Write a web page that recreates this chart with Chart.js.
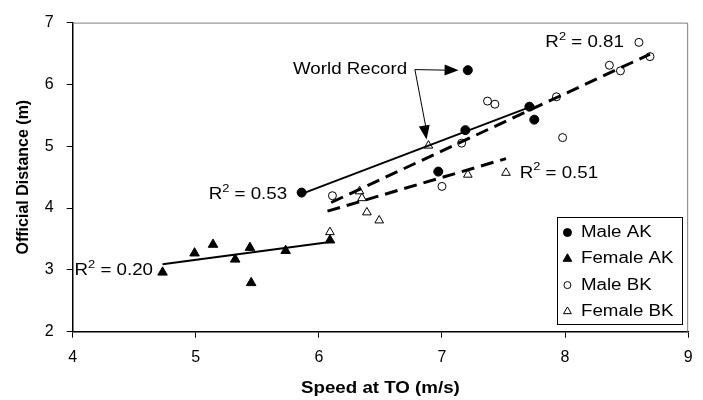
<!DOCTYPE html>
<html>
<head>
<meta charset="utf-8">
<script src="https://cdn.jsdelivr.net/npm/chart.js@4.4.1/dist/chart.umd.min.js"></script>
<style>
html, body { margin: 0; padding: 0; background: #fff; }
canvas { display: block; }
</style>
</head>
<body>
<canvas id="myChart" width="703" height="400"></canvas>
<script>
// Series names (legend order)
var seriesNames = ["Male AK", "Female AK", "Male BK", "Female BK"];

// Male AK (filled circles)
var maleAkX = [5.86, 6.97, 7.19, 7.21, 7.71, 7.75];
var maleAkY = [4.25, 4.59, 5.26, 6.23, 5.64, 5.43];

// Female AK (filled triangles)
var femaleAkX = [4.73, 4.99, 5.14, 5.32, 5.44, 5.45, 5.73, 6.09];
var femaleAkY = [2.96, 3.27, 3.41, 3.17, 3.36, 2.79, 3.31, 3.48];

// Male BK (open circles)
var maleBkX = [6.11, 7.00, 7.16, 7.37, 7.43, 7.93, 7.98, 8.36, 8.45, 8.60, 8.69];
var maleBkY = [4.20, 4.35, 5.05, 5.73, 5.68, 5.80, 5.14, 6.31, 6.22, 6.68, 6.45];

// Female BK (open triangles)
var femaleBkX = [6.09, 6.33, 6.35, 6.39, 6.49, 6.89, 7.21, 7.52];
var femaleBkY = [3.61, 4.27, 4.16, 3.93, 3.80, 5.01, 4.54, 4.57];

// Linear trend lines (end points)
var maleAkTrendX = [5.86, 7.75];
var maleAkTrendY = [4.23, 5.66];
var femaleAkTrendX = [4.73, 6.09];
var femaleAkTrendY = [3.09, 3.45];
var maleBkTrendX = [6.10, 8.69];
var maleBkTrendY = [4.09, 6.49];
var femaleBkTrendX = [6.07, 7.52];
var femaleBkTrendY = [3.95, 4.80];

// R squared values
var r2Values = ["0.53", "0.20", "0.81", "0.51"];

// Tick labels
var xTicks = [4, 5, 6, 7, 8, 9];
var yTicks = [2, 3, 4, 5, 6, 7];

var xTitle = "Speed at TO (m/s)";
var yTitle = "Official Distance (m)";

var FAMILY = "'Liberation Sans', Arial, sans-serif";
var SX = 1.17; // the original text is a bit wide

function toPoints(xs, ys) {
    return xs.map(function (v, i) { return { x: v, y: ys[i] }; });
}

function markerSet(label, xs, ys, style, radius, fill) {
    return {
        label: label,
        data: toPoints(xs, ys),
        pointStyle: style,
        pointRadius: radius,
        pointHoverRadius: radius,
        pointBackgroundColor: fill,
        pointBorderColor: "#000",
        pointBorderWidth: 1,
        showLine: false,
        order: 1
    };
}

function trendSet(xs, ys, width, dash) {
    return {
        label: "",
        data: toPoints(xs, ys),
        showLine: true,
        fill: false,
        borderColor: "#000",
        borderWidth: width,
        borderDash: dash,
        pointRadius: 0,
        pointHoverRadius: 0,
        order: 0
    };
}

// text helper, stretched horizontally
function drawText(ctx, str, x, y, font) {
    ctx.font = font;
    var w = ctx.measureText(str).width * SX;
    ctx.save();
    ctx.translate(x, y);
    ctx.scale(SX, 1);
    ctx.fillText(str, 0, 0);
    ctx.restore();
    return w;
}

function textWidth(ctx, str, font) {
    ctx.font = font;
    return ctx.measureText(str).width * SX;
}

function drawR2(ctx, val, x, y, align) {
    var f = "16px " + FAMILY;
    var fs = "11px " + FAMILY;
    var rest = " = " + val;
    var total = textWidth(ctx, "R", f) + textWidth(ctx, "2", fs) + textWidth(ctx, rest, f);
    var x0 = align === "right" ? x - total : x;
    x0 += drawText(ctx, "R", x0, y, f);
    x0 += drawText(ctx, "2", x0, y - 6, fs);
    drawText(ctx, rest, x0, y, f);
}

function arrowHead(ctx, fromX, fromY, toX, toY) {
    var ang = Math.atan2(toY - fromY, toX - fromX);
    var len = 14, half = 5.5;
    ctx.beginPath();
    ctx.moveTo(toX, toY);
    ctx.lineTo(toX - len * Math.cos(ang) + half * Math.sin(ang), toY - len * Math.sin(ang) - half * Math.cos(ang));
    ctx.lineTo(toX - len * Math.cos(ang) - half * Math.sin(ang), toY - len * Math.sin(ang) + half * Math.cos(ang));
    ctx.closePath();
    ctx.fill();
}

var extras = {
    id: "extras",
    afterDraw: function (chart) {
        var ctx = chart.ctx;
        var area = chart.chartArea;
        var sx = chart.scales.x, sy = chart.scales.y;
        function px(v) { return sx.getPixelForValue(v); }
        function py(v) { return sy.getPixelForValue(v); }

        ctx.save();
        // plot area frame (top and right)
        ctx.strokeStyle = "#7f7f7f";
        ctx.lineWidth = 1;
        ctx.beginPath();
        ctx.moveTo(area.left, area.top + 0.5);
        ctx.lineTo(area.right - 0.5, area.top + 0.5);
        ctx.lineTo(area.right - 0.5, area.bottom);
        ctx.stroke();

        ctx.fillStyle = "#000";
        ctx.strokeStyle = "#000";
        ctx.textBaseline = "middle";

        // x axis title (stretched like the rest of the text)
        var tw = textWidth(ctx, xTitle, "bold 16px " + FAMILY);
        drawText(ctx, xTitle, (area.left + area.right) / 2 - tw / 2, 388.3, "bold 16px " + FAMILY);

        // R squared labels
        drawR2(ctx, r2Values[0], px(5.742), py(4.219), "right");
        drawR2(ctx, r2Values[1], px(4.652), py(2.99), "right");
        drawR2(ctx, r2Values[2], px(7.84), py(6.676), "left");
        drawR2(ctx, r2Values[3], px(7.631), py(4.563), "left");

        // World Record note with arrows
        drawText(ctx, "World Record", px(5.79), py(6.24), "16px " + FAMILY);
        var ex = px(6.78), ey = py(6.24);
        var t1x = px(7.135), t1y = py(6.23);
        var t2x = px(6.875), t2y = py(5.11);
        ctx.lineWidth = 1;
        ctx.beginPath();
        ctx.moveTo(ex, ey);
        ctx.lineTo(t1x - 10, t1y);
        ctx.moveTo(ex, ey);
        ctx.lineTo(t2x - 0.3, t2y - 10);
        ctx.stroke();
        arrowHead(ctx, ex, ey, t1x, t1y);
        arrowHead(ctx, ex, ey, t2x, t2y);

        // legend box
        var bw = 125, bh = 106.5;
        var bx = area.right - 5.7 - bw, by = area.bottom - 8.4 - bh;
        ctx.fillStyle = "#fff";
        ctx.fillRect(bx, by, bw, bh);
        ctx.strokeStyle = "#000";
        ctx.lineWidth = 1;
        ctx.strokeRect(Math.round(bx) + 0.5, Math.round(by) + 0.5, Math.round(bw), Math.round(bh));
        var legendR = [4, 5, 3.5, 4.5];
        for (var i = 0; i < seriesNames.length; i++) {
            var ds = chart.data.datasets[i];
            var iy = by + 15.7 + i * 26.3;
            ctx.fillStyle = ds.pointBackgroundColor;
            ctx.strokeStyle = "#000";
            ctx.lineWidth = 1;
            Chart.helpers.drawPoint(ctx, { pointStyle: ds.pointStyle, radius: legendR[i], rotation: 0, borderWidth: 1 }, bx + 10, iy);
            ctx.fillStyle = "#000";
            drawText(ctx, ds.label, bx + 23.5, iy, "16px " + FAMILY);
        }
        ctx.restore();
    }
};

const ctx = document.getElementById("myChart");
var myChart = new Chart(ctx, {
    type: "scatter",
    data: {
        datasets: [
            markerSet(seriesNames[0], maleAkX, maleAkY, "circle", 4.5, "#000"),
            markerSet(seriesNames[1], femaleAkX, femaleAkY, "triangle", 5.5, "#000"),
            markerSet(seriesNames[2], maleBkX, maleBkY, "circle", 4, "#fff"),
            markerSet(seriesNames[3], femaleBkX, femaleBkY, "triangle", 5, "#fff"),
            trendSet(maleAkTrendX, maleAkTrendY, 2, []),
            trendSet(femaleAkTrendX, femaleAkTrendY, 2, []),
            trendSet(maleBkTrendX, maleBkTrendY, 3, [13, 7]),
            trendSet(femaleBkTrendX, femaleBkTrendY, 3, [13, 7])
        ]
    },
    options: {
        responsive: false,
        animation: false,
        layout: { padding: { left: 0, top: 12.3, right: 14.3, bottom: 0 } },
        plugins: {
            legend: { display: false },
            tooltip: { enabled: false }
        },
        scales: {
            x: {
                type: "linear",
                min: xTicks[0],
                max: xTicks[xTicks.length - 1],
                afterBuildTicks: function (scale) {
                    scale.ticks = xTicks.map(function (v) { return { value: v }; });
                },
                afterFit: function (scale) { scale.height = 68.3; },
                border: { display: true, color: "#000", width: 1.5 },
                grid: { drawOnChartArea: false, drawTicks: true, tickLength: 6, color: "#000" },
                ticks: { color: "#000", padding: 10.4, maxRotation: 0, font: { size: 16, family: FAMILY } },
                title: { display: false }
            },
            y: {
                type: "linear",
                min: yTicks[0],
                max: yTicks[yTicks.length - 1],
                afterBuildTicks: function (scale) {
                    scale.ticks = yTicks.map(function (v) { return { value: v }; });
                },
                afterFit: function (scale) { scale.width = 72.7; },
                border: { display: true, color: "#000", width: 1.5 },
                grid: { drawOnChartArea: false, drawTicks: true, tickLength: 6, color: "#000" },
                ticks: { color: "#000", padding: 13, font: { size: 16, family: FAMILY } },
                title: {
                    display: true,
                    text: yTitle,
                    color: "#000",
                    padding: { top: 13.7, bottom: 0 },
                    font: { size: 16, weight: "bold", family: FAMILY }
                }
            }
        }
    },
    plugins: [extras]
});
</script>
</body>
</html>
